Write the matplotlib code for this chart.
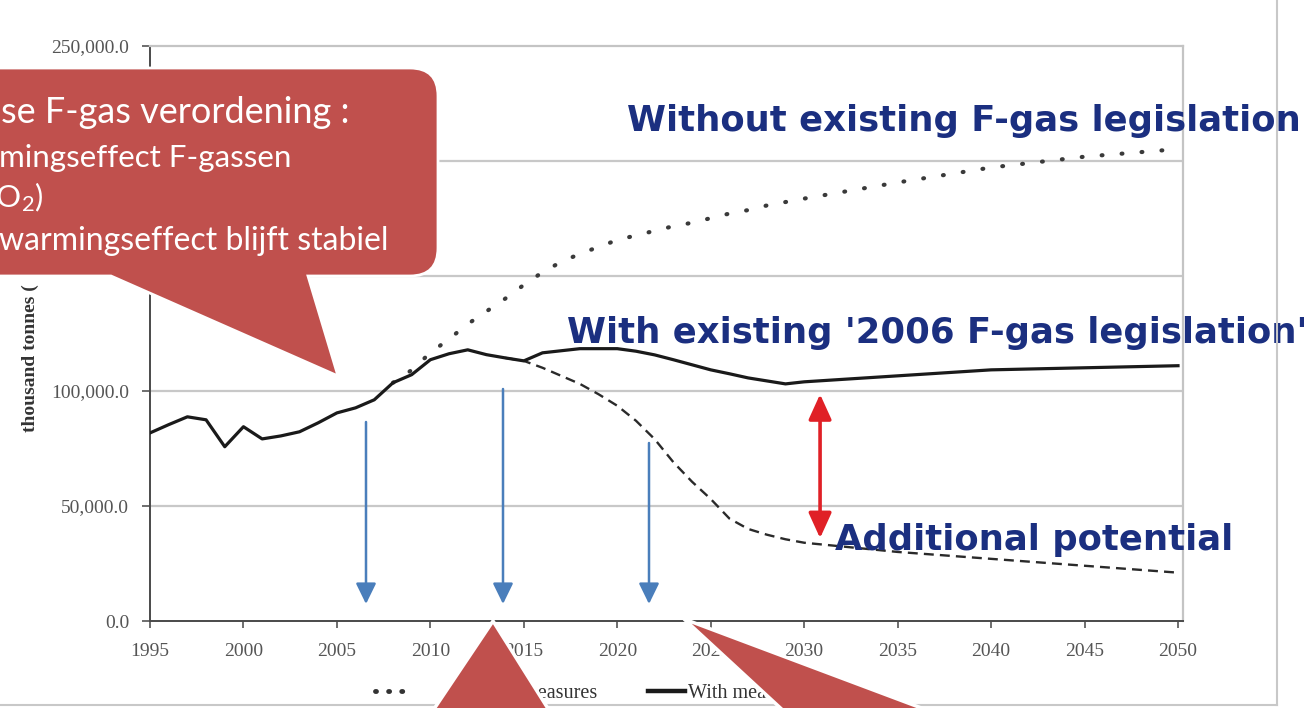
import numpy as np
import matplotlib
matplotlib.use("Agg")
import matplotlib.pyplot as plt
from matplotlib.patches import Polygon, PathPatch
from matplotlib.path import Path
from matplotlib.lines import Line2D
from matplotlib.ticker import FuncFormatter

# emissions in thousand tonnes CO2-eq
years_with = list(range(1995, 2031)) + [2035, 2040, 2045, 2050]
with_measures = [81700, 85300, 88700, 87400, 75700, 84400, 79100, 80400, 82200, 86100,
                 90400, 92600, 96100, 103500, 107000, 113500, 116100, 117800, 115700, 114300,
                 113000, 116500, 117400, 118300, 118300, 118300, 117200, 115600, 113500, 111300,
                 109100, 107400, 105600, 104300, 103000, 103900,
                 106500, 109100, 110000, 110900]

years_without = list(range(2008, 2031)) + [2035, 2040, 2045, 2050]
without_measures = [103500, 109000, 116500, 122500, 129000, 134500, 140000, 146000, 151500, 156000,
                    159500, 162500, 165500, 167500, 169500, 171500, 173000, 175000, 177000, 178500,
                    180500, 182000, 183500,
                    190500, 197000, 201700, 205000]

years_additional = list(range(2014, 2031)) + [2035, 2040, 2045, 2050]
with_additional = [114300, 113000, 110000, 106500, 103000, 98500, 93500, 87000, 79000, 69000,
                   60500, 53000, 44500, 40000, 37500, 35500, 34000,
                   30000, 27000, 24000, 21000]

x_ticks = list(range(1995, 2051, 5))
y_ticks = [0, 50000, 100000, 150000, 200000, 250000]
legend_labels = ["Without measures", "With measures"]

W, H = 1313, 708
RED = "#C0504D"
NAVY = "#1b2f80"
BLUE = "#4A7EBB"

fig = plt.figure(figsize=(W / 100, H / 100), dpi=100)
fig.patch.set_facecolor("white")

# plot area in pixels: x 150..1183, y 45..621
ax = fig.add_axes([150 / W, 1 - 621 / H, (1183 - 150) / W, (621 - 45.5) / H])
ax.set_xlim(1995, 2050 + 5 / 18.69)
ax.set_ylim(0, 250000)

ax.plot(years_without, without_measures, color="#3a3a3a", lw=3.0,
        linestyle=(0, (0.2, 4.6)), dash_capstyle="round", zorder=3)
ax.plot(years_additional, with_additional, color="#2a2a2a", lw=1.7,
        linestyle=(0, (4.2, 2.6)), zorder=3)
ax.plot(years_with, with_measures, color="#1a1a1a", lw=2.3, zorder=4,
        solid_joinstyle="round")


def fmt_y(v, pos):
    # 150,000 and 200,000 sit under the note box
    if v in (150000, 200000):
        return ""
    return f"{v:,.1f}"


ax.set_xticks(x_ticks)
ax.set_yticks(y_ticks)
ax.yaxis.set_major_formatter(FuncFormatter(fmt_y))
for lab in ax.get_xticklabels() + ax.get_yticklabels():
    lab.set_fontfamily("Liberation Serif")
    lab.set_fontsize(14)
    lab.set_color("#555555")
ax.tick_params(axis="x", length=5, pad=11, color="#555555", width=1.2)
ax.tick_params(axis="y", length=6, pad=9, color="#555555", width=1.2)

for v in y_ticks[1:-1]:
    ax.axhline(v, color="#c8c8c8", lw=1.6, zorder=1)
for side in ("top", "right"):
    ax.spines[side].set_color("#c4c4c4")
    ax.spines[side].set_linewidth(1.6)
for side in ("left", "bottom"):
    ax.spines[side].set_color("#4a4a4a")
    ax.spines[side].set_linewidth(1.4)

fig.text(30 / W, 1 - 432 / H, "thousand tonnes (", rotation=90, ha="center", va="bottom",
         fontfamily="Liberation Serif", fontweight="bold", fontsize=14, color="#333333",
         zorder=-1)

# scenario labels
lab_kw = dict(fontfamily="DejaVu Sans", fontweight="bold", fontsize=25.5, color=NAVY,
              va="center", ha="left", clip_on=False, zorder=6)
ax.text(2020.5, 217400, "Without existing F-gas legislation", **lab_kw)
ax.text(2017.3, 125200, "With existing '2006 F-gas legislation'", **lab_kw)
ax.text(2031.65, 35200, "Additional potential", **lab_kw)

# gap between current policy and additional measures
ax.annotate("", xy=(2030.85, 36000), xytext=(2030.85, 98500),
            arrowprops=dict(arrowstyle="<|-|>,head_length=0.55,head_width=0.25",
                            color="#e02026", lw=2.6, mutation_scale=28,
                            shrinkA=0, shrinkB=0), zorder=5)

# legend below the axis, kept beneath the slide shapes
leg1 = fig.legend([Line2D([], [], color="#333333", lw=3.5, linestyle=(0, (0.2, 2.5)),
                          dash_capstyle="round")], legend_labels[:1],
                  loc="center left", bbox_to_anchor=(375 / W, 1 - 693 / H), frameon=False,
                  borderpad=0, borderaxespad=0, handlelength=1.6, handletextpad=2.2,
                  prop={"family": "Liberation Serif", "size": 14.5})
leg2 = fig.legend([Line2D([], [], color="#1a1a1a", lw=3.2)], legend_labels[1:],
                  loc="center left", bbox_to_anchor=(648 / W, 1 - 693 / H), frameon=False,
                  borderpad=0, borderaxespad=0, handlelength=1.85, handletextpad=0.12,
                  prop={"family": "Liberation Serif", "size": 14.5})
for leg in (leg1, leg2):
    leg.set_zorder(-1)
    for t in leg.get_texts():
        t.set_color("#333333")

# overlay in pixel coordinates for slide shapes
over = fig.add_axes([0, 0, 1, 1])
over.set_xlim(0, W)
over.set_ylim(H, 0)
over.axis("off")
over.patch.set_visible(False)

over.plot([1277, 1277], [-5, 705], color="#c8c8c8", lw=1.5, zorder=1)
over.plot([-5, 1277], [705, 705], color="#c8c8c8", lw=1.5, zorder=1)


def callout(x0, y0, x1, y1, r, tail):
    # rounded box with a pointer leaving its bottom edge
    ta, tb, tip = tail
    verts = [(x0, y0), (x1 - r, y0), (x1, y0), (x1, y0 + r), (x1, y1 - r), (x1, y1),
             (x1 - r, y1), (tb, y1), tip, (ta, y1), (x0, y1), (x0, y0)]
    codes = [Path.MOVETO, Path.LINETO, Path.CURVE3, Path.CURVE3, Path.LINETO, Path.CURVE3,
             Path.CURVE3, Path.LINETO, Path.LINETO, Path.LINETO, Path.LINETO, Path.CLOSEPOLY]
    return Path(verts, codes)


over.add_patch(PathPatch(callout(-40, 68, 438, 276, 28, (111, 308, (338, 376))),
                         fc=RED, ec="white", lw=2, zorder=5))

txt_kw = dict(color="white", fontfamily="Lato", va="baseline", zorder=6)
over.text(1, 123, "se F-gas verordening :", fontsize=26, ha="left", **txt_kw)
over.text(-1, 167, "mingseffect F-gassen", fontsize=22.5, ha="left", **txt_kw)
over.text(44, 207, r"$\mathregular{CO_2)}$", fontsize=22.5, ha="right", **txt_kw)
over.text(-1, 250, "warmingseffect blijft stabiel", fontsize=23, ha="left", **txt_kw)

# pointers from callouts below the chart
over.add_patch(Polygon([(493, 621), (430, 715), (552, 715)], closed=True,
                       fc=RED, ec="white", lw=2.5, zorder=5))
over.add_patch(Polygon([(684, 619), (788, 715), (940, 715)], closed=True,
                       fc=RED, ec="white", lw=2.5, zorder=5))

for x, y_start in [(366, 422), (503, 389), (649, 443)]:
    over.annotate("", xy=(x, 604), xytext=(x, y_start),
                  arrowprops=dict(arrowstyle="-|>,head_length=0.45,head_width=0.22",
                                  color=BLUE, lw=1.8, mutation_scale=28,
                                  shrinkA=0, shrinkB=0), zorder=4)

fig.savefig("out.png", dpi=100, facecolor="white")
